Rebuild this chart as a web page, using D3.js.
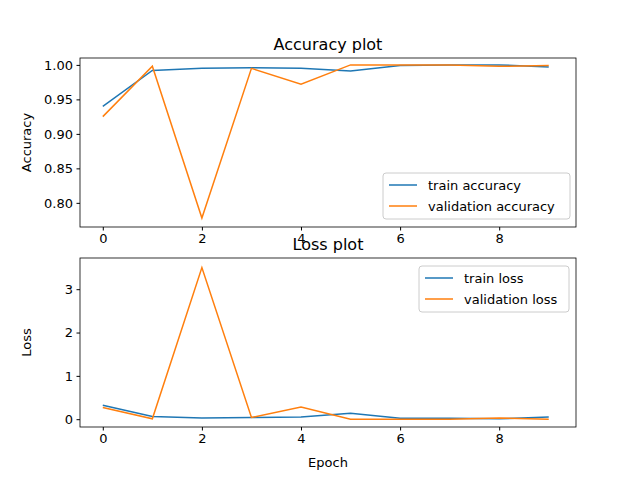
<!DOCTYPE html>
<html><head><meta charset="utf-8">
<script src="https://cdn.jsdelivr.net/npm/d3@7"></script>
<style>body{margin:0;background:#fff}text{font-family:"DejaVu Sans",sans-serif}</style>
</head><body><svg width="640" height="480"></svg>
<script>
var epochs = [0,1,2,3,4,5,6,7,8,9];
var trainAcc = [0.940,0.992,0.995,0.996,0.995,0.991,0.999,1.000,1.000,0.997];
var valAcc = [0.925,0.998,0.778,0.995,0.972,1.000,1.000,1.000,0.998,0.999];
var trainLoss = [0.32,0.06,0.03,0.04,0.05,0.14,0.02,0.02,0.01,0.05];
var valLoss = [0.27,0.01,3.50,0.04,0.28,0.00,0.00,0.00,0.03,0.00];
var accTicks = [0.80,0.85,0.90,0.95,1.00];
var lossTicks = [0,1,2,3];
var xTicks = [0,2,4,6,8];

var svg = d3.select('svg');
var left = 80, right = 576;
var xScale = d3.scaleLinear().domain([-0.46, 9.55]).range([left, right]);

var panel = (top, bottom, domain, ticks, fmt, s1, s2, names, title, ylabel, legendPos, showXLabel) => {
    var y = d3.scaleLinear().domain(domain).range([bottom, top]);
    var g = svg.append('g');
    var line = d3.line().x((d, i) => xScale(epochs[i])).y(d => y(d));
    [[s1,'#1f77b4'],[s2,'#ff7f0e']].forEach(s => {
        g.append('path').attr('d', line(s[0])).attr('fill','none')
         .attr('stroke', s[1]).attr('stroke-width', 1.5);
    });
    g.append('rect').attr('x', left).attr('y', top).attr('width', right-left)
     .attr('height', bottom-top).attr('fill','none').attr('stroke','#000').attr('stroke-width',0.8);
    g.append('g').attr('transform','translate(0,'+bottom+')')
     .call(d3.axisBottom(xScale).tickValues(xTicks).tickSize(3.5).tickPadding(3.5))
     .call(a => a.select('.domain').remove());
    g.append('g').attr('transform','translate('+left+',0)')
     .call(d3.axisLeft(y).tickValues(ticks).tickFormat(fmt).tickSize(3.5).tickPadding(3.5))
     .call(a => a.select('.domain').remove());
    g.selectAll('.tick text').attr('font-size', 13).attr('fill','#000');
    g.append('text').attr('x',(left+right)/2).attr('y',top-8).attr('text-anchor','middle')
     .attr('font-size',16).text(title);
    g.append('text').attr('transform','translate(31,'+((top+bottom)/2)+') rotate(-90)')
     .attr('text-anchor','middle').attr('font-size',13).text(ylabel);
    if (showXLabel) g.append('text').attr('x',(left+right)/2).attr('y',bottom+40)
     .attr('text-anchor','middle').attr('font-size',13).text('Epoch');
    var lg = g.append('g').attr('transform','translate('+legendPos[0]+','+legendPos[1]+')');
    var w = legendPos[2];
    lg.append('rect').attr('width', w).attr('height', 46).attr('rx',3)
      .attr('fill','#fff').attr('fill-opacity',0.8).attr('stroke','#ccc');
    names.forEach((n, i) => {
        lg.append('line').attr('x1',6).attr('x2',34).attr('y1',12+i*21).attr('y2',12+i*21)
          .attr('stroke', i ? '#ff7f0e' : '#1f77b4').attr('stroke-width',1.5);
        lg.append('text').attr('x',45).attr('y',17+i*21).attr('font-size',13).text(n);
    });
};

panel(58, 227, [0.765, 1.010], accTicks, d3.format('.2f'), trainAcc, valAcc,
      ['train accuracy','validation accuracy'], 'Accuracy plot', 'Accuracy', [383,173,187], false);
panel(258, 427, [-0.18, 3.72], lossTicks, d3.format('d'), trainLoss, valLoss,
      ['train loss','validation loss'], 'Loss plot', 'Loss', [419,266,150], true);
</script></body></html>
